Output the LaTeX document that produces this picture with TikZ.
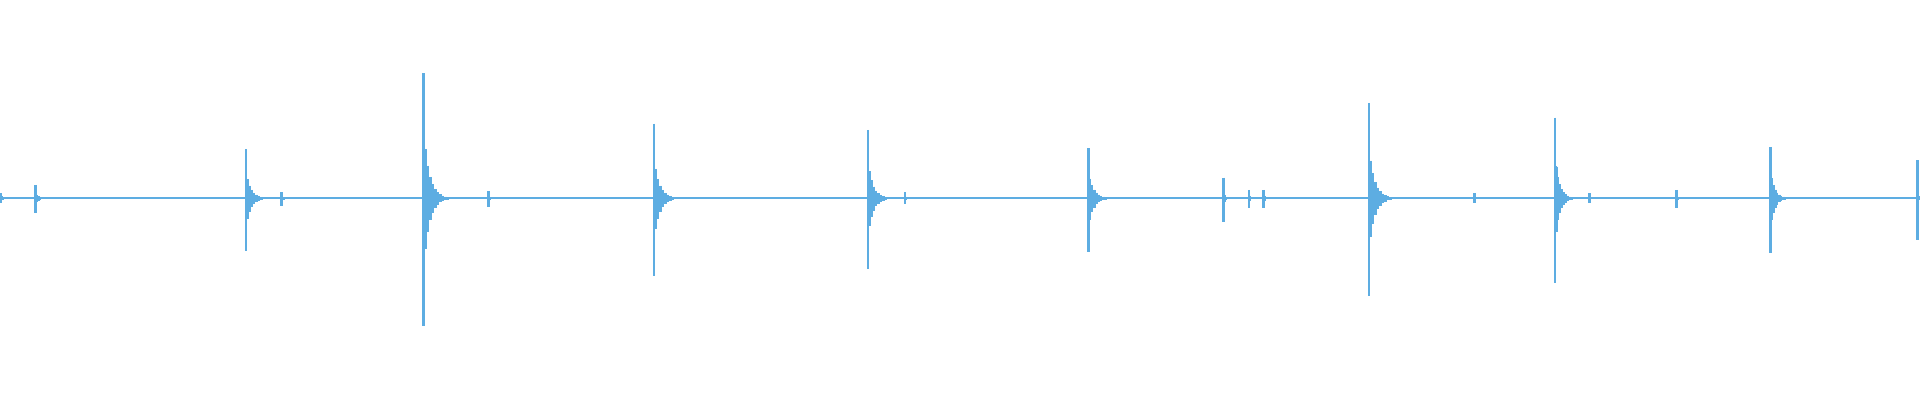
\documentclass[tikz,border=0pt]{standalone}
\usepackage{tikz}
\definecolor{wavecol}{HTML}{5DADE2}
\tikzset{
  wave/.style={draw=wavecol,line width=0.7pt},
  ripple/.style={draw=wavecol,line width=0.5pt}
}
% \burst{x}{top}{bottom}{length}
\newcommand*\burst[4]{
  \draw[wave] (#1,#2) -- (#1,#3);
  \foreach \k in {1,...,24}{
    \pgfmathsetmacro\fac{0.55*exp(-4*\k/24)*(0.7+0.3*mod(\k*7,5)/4)}
    \draw[ripple] ({#1+\k*#4/24},{162-(162-#2)*\fac}) -- ({#1+\k*#4/24},{162+(#3-162)*\fac});
  }
}
\begin{document}
\begin{tikzpicture}[x=0.012245cm,y=-0.012245cm]
   \useasboundingbox (0,0) rectangle (1568,326.6);
   \draw[wavecol,line width=0.6pt] (0,162) -- (1568,162);
   \foreach \px/\top/\bot/\len in {1/158/166/8, 29/151/174/10, 201/122/205/18,
       230/157/168/6, 346/60/266/20, 399/156/169/5, 534/101/225/20,
       709/106/220/18, 739/157/167/6, 889/121/206/18, 999/145/181/4,
       1020/155/170/4, 1032/155/170/5, 1118/84/242/20, 1204/158/166/4,
       1270/96/231/15, 1298/158/166/4, 1369/155/170/4, 1446/120/207/15,
       1566/131/196/1.5}
     {\burst{\px}{\top}{\bot}{\len}}
\end{tikzpicture}
\end{document}
